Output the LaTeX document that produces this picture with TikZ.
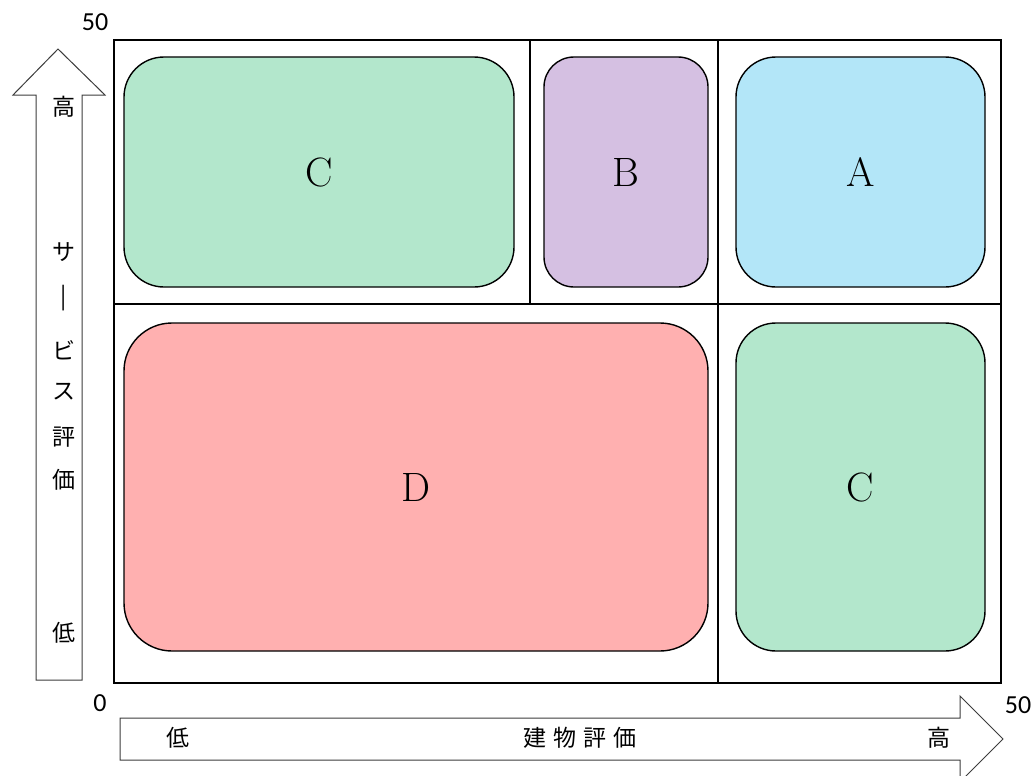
\documentclass[tikz,border=0pt]{standalone}
\usepackage{fontspec}
\newfontfamily\jp{Noto Sans CJK JP}[Scale=1]
\newfontfamily\numfont{Carlito}
\definecolor{cgreen}{RGB}{179,231,204}
\definecolor{cpurple}{RGB}{213,192,226}
\definecolor{cblue}{RGB}{179,230,248}
\definecolor{cpink}{RGB}{255,176,176}
\definecolor{arrowgray}{RGB}{60,60,60}
\tikzset{
  zone/.style={draw=black, line width=1.4pt, rounded corners=40pt, inner sep=0pt, font=\fontsize{41}{41}\selectfont},
  frameline/.style={draw=black, line width=2pt},
  gridline/.style={draw=black, line width=1.4pt},
  axisarrow/.style={draw=arrowgray, line width=1pt, fill=white},
  jplabel/.style={font=\jp\fontsize{23}{23}\selectfont, inner sep=0pt},
  numlabel/.style={font=\numfont\fontsize{26}{26}\selectfont, inner sep=0pt}
}
\begin{document}
\begin{tikzpicture}[x=1pt,y=-1pt]
\useasboundingbox (0,0) rectangle (1036,776);
\clip (0,0) rectangle (1036,776);
% grid
\draw[gridline] (718,40) -- (718,683);
\draw[gridline] (530,40) -- (530,304);
\draw[gridline] (114,304) -- (1001,304);
\draw[frameline] (114,40) rectangle (1001,683);
% zones
\node[zone, fill=cgreen, minimum width=390pt, minimum height=230pt] (c1) at (319,172) {C};
\node[zone, fill=cpurple, minimum width=164pt, minimum height=230pt, rounded corners=30pt] (b) at (626,172) {B};
\node[zone, fill=cblue, minimum width=249pt, minimum height=230pt] (a) at (860.5,172) {A};
\node[zone, fill=cpink, minimum width=584pt, minimum height=328pt, rounded corners=48pt] (d) at (416,487) {D};
\node[zone, fill=cgreen, minimum width=249pt, minimum height=328pt] (c2) at (860.5,487) {C};
% vertical axis arrow
\draw[axisarrow] (36,680) -- (36,95) -- (13,95) -- (58,49) -- (105,95) -- (82,95) -- (82,680) -- cycle;
% horizontal axis arrow
\draw[axisarrow] (120,718) -- (960,718) -- (960,696) -- (1003,739) -- (960,782) -- (960,760) -- (120,760) -- cycle;
% labels
\node[numlabel] (n50a) at (95,22) {50};
\node[numlabel] (n0) at (100,703) {0};
\node[numlabel] (n50b) at (1018,705) {50};
\node[jplabel] (vh) at (64,107) {高};
\node[jplabel] (v1) at (64,252) {サ};
\node[jplabel] (v2) at (64,298) {|};
\node[jplabel] (v3) at (64,350) {ビ};
\node[jplabel] (v4) at (64,392) {ス};
\node[jplabel] (v5) at (64,437) {評};
\node[jplabel] (v6) at (64,480) {価};
\node[jplabel] (vl) at (64,633) {低};
\node[jplabel] (hl) at (178,738) {低};
\node[jplabel] (ht) at (580,738) {建\hspace{7pt}物\hspace{7pt}評\hspace{7pt}価};
\node[jplabel] (hh) at (939,738) {高};
\end{tikzpicture}
\end{document}
